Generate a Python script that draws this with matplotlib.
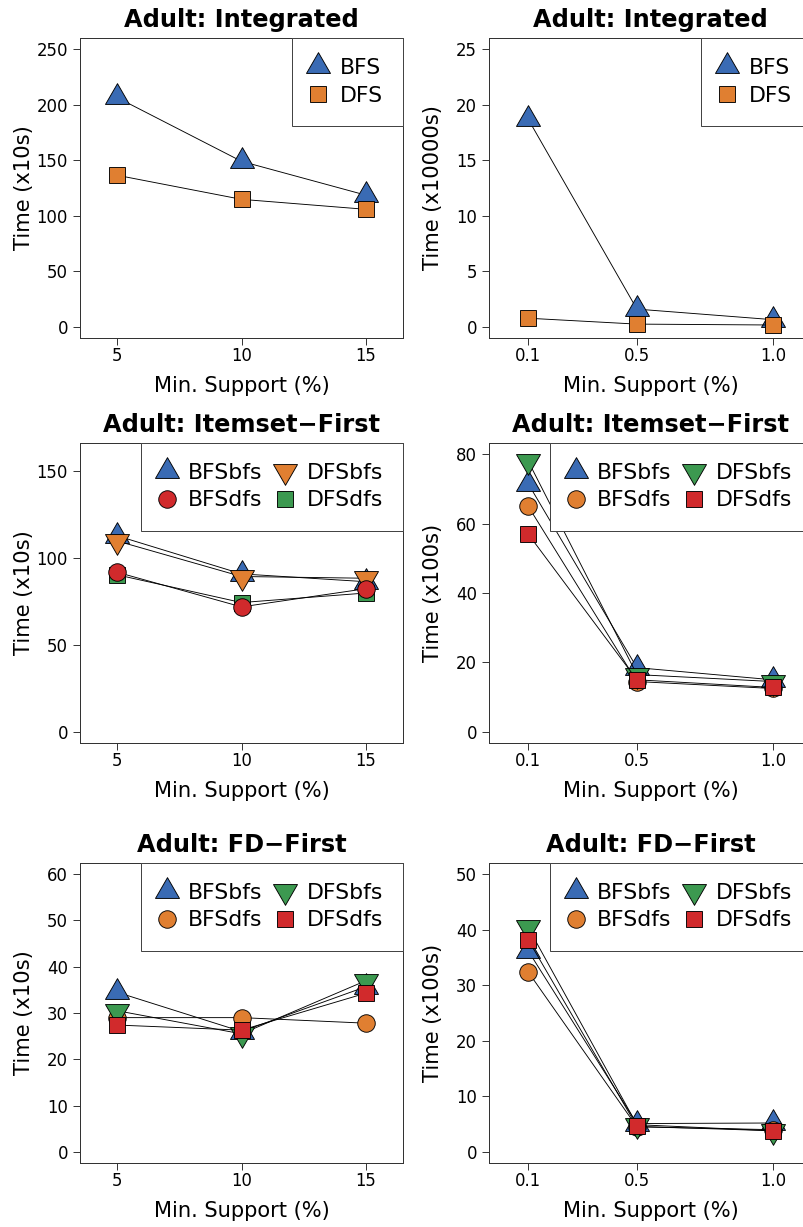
import matplotlib
matplotlib.use('Agg')
import matplotlib.pyplot as plt
from matplotlib.path import Path
from matplotlib.lines import Line2D

plt.rcParams['font.family'] = 'DejaVu Sans'

# x axis: minimum support (%)
support_low = [5, 10, 15]
support_high = [0.1, 0.5, 1.0]
support_high_labels = ['0.1', '0.5', '1.0']

# Integrated
int_low_bfs = [206.5, 149, 118.5]
int_low_dfs = [136.5, 114.8, 105.8]
int_high_bfs = [18.7, 1.6, 0.65]
int_high_dfs = [0.78, 0.25, 0.17]

# Itemset-First
item_low_bfsbfs = [113, 91, 86.5]
item_low_bfsdfs = [92, 72, 82.5]
item_low_dfsbfs = [110, 89.5, 88.5]
item_low_dfsdfs = [90.5, 74.5, 80]
item_high_bfsbfs = [71.5, 18.5, 15]
item_high_bfsdfs = [65, 14.5, 12.5]
item_high_dfsbfs = [78, 16.5, 14.5]
item_high_dfsdfs = [57, 15, 12.8]

# FD-First
fd_low_bfsbfs = [34.5, 26, 35.7]
fd_low_bfsdfs = [29, 29, 27.8]
fd_low_dfsbfs = [30.5, 25.5, 37]
fd_low_dfsdfs = [27.4, 26.3, 34.3]
fd_high_bfsbfs = [36.2, 5.1, 5.2]
fd_high_bfsdfs = [32.4, 4.5, 4.0]
fd_high_dfsbfs = [40.4, 4.9, 3.8]
fd_high_dfsdfs = [38.2, 4.6, 3.8]

blue = '#3A6BB4'
orange = '#E07F31'
red = '#D12A2C'
green = '#3C9950'

# R-style triangles: data point sits at the centroid
tri_up = Path([(0, 1.555), (1.347, -0.778), (-1.347, -0.778), (0, 1.555)], closed=True)
tri_down = Path([(0, -1.555), (1.347, 0.778), (-1.347, 0.778), (0, -1.555)], closed=True)
msize = {'up': 27.7, 'down': 27.7, 's': 15.5, 'o': 17.5}
mshape = {'up': tri_up, 'down': tri_down, 's': 's', 'o': 'o'}

W, H = 803, 1227
fig = plt.figure(figsize=(W / 72, H / 72), dpi=72)


def panel(x0, ybot, xs, xlim, xticklabels, series, ymax, ystep, ylabel, title, ncol):
    ax = fig.add_axes([x0 / W, 1 - ybot / H, 323 / W, 300 / H])
    handles = []
    for label, ys, mk, col, z in series:
        ax.plot(xs, ys, color='black', lw=0.9, marker=mshape[mk], ms=msize[mk],
                mfc=col, mec='black', mew=0.9, zorder=3 + z, clip_on=False)
        handles.append(Line2D([], [], ls='none', marker=mshape[mk], ms=msize[mk],
                              mfc=col, mec='black', mew=0.9, label=label))
    pad = ymax * 0.04
    ax.set_ylim(-pad, ymax + pad)
    ax.set_xlim(*xlim)
    ax.set_yticks(range(0, ymax + 1, ystep))
    ax.set_xticks(xs)
    ax.set_xticklabels(xticklabels)
    ax.tick_params(axis='both', direction='out', length=7, width=0.9, labelsize=16.5,
                   color='#222222')
    ax.tick_params(axis='x', pad=1.5)
    ax.tick_params(axis='y', pad=5)
    for sp in ax.spines.values():
        sp.set_linewidth(1.0)
        sp.set_color('#333333')
    ax.set_xlabel('Min. Support (%)', fontsize=21)
    ax.xaxis.set_label_coords(0.5, -0.127)
    ax.set_ylabel(ylabel, fontsize=21, va='center')
    ax.yaxis.set_label_coords(-0.173, 0.5)
    ax.set_title(title, fontsize=24, fontweight='bold', pad=11)
    leg = ax.legend(handles=handles, loc='upper right', ncol=ncol, fontsize=22,
                    borderaxespad=0, fancybox=False, framealpha=1, edgecolor='#444444',
                    handlelength=0.55, handletextpad=0.7, borderpad=0.91,
                    labelspacing=0.34, columnspacing=0.75, numpoints=1)
    leg.get_frame().set_linewidth(1.0)
    return ax


low_lim = (3.52, 16.48)
high_lim = (-0.044, 1.144)
low_labels = [str(v) for v in support_low]

panel(80, 338, support_low, low_lim, low_labels,
      [('BFS', int_low_bfs, 'up', blue, 0), ('DFS', int_low_dfs, 's', orange, 1)],
      250, 50, 'Time (x10s)', 'Adult: Integrated', 1)
panel(489, 338, support_high, high_lim, support_high_labels,
      [('BFS', int_high_bfs, 'up', blue, 0), ('DFS', int_high_dfs, 's', orange, 1)],
      25, 5, 'Time (x10000s)', 'Adult: Integrated', 1)

panel(80, 743, support_low, low_lim, low_labels,
      [('BFSbfs', item_low_bfsbfs, 'up', blue, 0), ('BFSdfs', item_low_bfsdfs, 'o', red, 3),
       ('DFSbfs', item_low_dfsbfs, 'down', orange, 1), ('DFSdfs', item_low_dfsdfs, 's', green, 2)],
      160, 50, 'Time (x10s)', 'Adult: Itemset\u2212First', 2)
panel(489, 743, support_high, high_lim, support_high_labels,
      [('BFSbfs', item_high_bfsbfs, 'up', blue, 0), ('BFSdfs', item_high_bfsdfs, 'o', orange, 1),
       ('DFSbfs', item_high_dfsbfs, 'down', green, 2), ('DFSdfs', item_high_dfsdfs, 's', red, 3)],
      80, 20, 'Time (x100s)', 'Adult: Itemset\u2212First', 2)

panel(80, 1163, support_low, low_lim, low_labels,
      [('BFSbfs', fd_low_bfsbfs, 'up', blue, 0), ('BFSdfs', fd_low_bfsdfs, 'o', orange, 1),
       ('DFSbfs', fd_low_dfsbfs, 'down', green, 2), ('DFSdfs', fd_low_dfsdfs, 's', red, 3)],
      60, 10, 'Time (x10s)', 'Adult: FD\u2212First', 2)
panel(489, 1163, support_high, high_lim, support_high_labels,
      [('BFSbfs', fd_high_bfsbfs, 'up', blue, 0), ('BFSdfs', fd_high_bfsdfs, 'o', orange, 1),
       ('DFSbfs', fd_high_dfsbfs, 'down', green, 2), ('DFSdfs', fd_high_dfsdfs, 's', red, 3)],
      50, 10, 'Time (x100s)', 'Adult: FD\u2212First', 2)

fig.savefig('out.png', dpi=72)
